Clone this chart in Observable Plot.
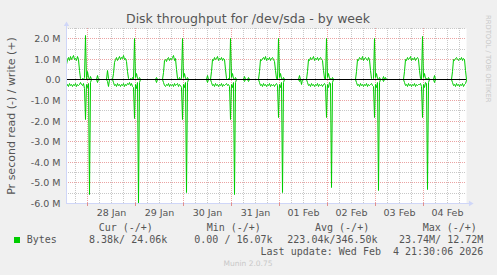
<!DOCTYPE html>
<html><head><meta charset="utf-8">
<script src="https://cdn.jsdelivr.net/npm/d3@7"></script>
<script src="https://cdn.jsdelivr.net/npm/@observablehq/plot@0.6"></script>
<style>
html,body{margin:0;padding:0;background:#f0f0f0;}
#wrap{position:relative;width:497px;height:275px;overflow:hidden;background:#f0f0f0;}
#wrap svg{position:absolute;left:0;top:0;}
</style></head><body><div id="wrap"></div>
<script>
// Time axis: hours after 27 Jan 00:00; samples every 30 minutes
const startHour = 13.5;   // 27 Jan 13:30
const endHour = 213.5;    // 04 Feb 21:30
const stepHours = 0.5;

// write (+) in MB/s, per 30-min sample
const writeM = [
  0.75,1.0,1.1,0.95,1.15,1.0,1.1,1.2,1.0,1.05,
  0.95,1.15,1.0,0.45,0.05,0,0.05,0,0.1,2.15,
  0,0.4,0.1,0,0.15,0,0,0,0,0,
  0,0.2,0,0,0,0,0,0,0,0,
  0,0.45,0.05,0,0,0,0,0.3,0.85,1.0,
  1.1,0.95,1.05,1.15,1.0,1.1,1.05,1.2,1.0,1.05,
  0.9,0.4,0.05,0,0.05,0,0.1,0,2.0,0.1,
  0.3,0.05,0,0.1,0,0,0,0,0,0,
  0,0,0,0,0,0,0,0,0,0,
  0.1,0,0,0,0,0,0,0.35,0.95,1.0,
  0.9,1.05,1.1,0.95,1.05,1.0,1.1,1.2,0.95,1.05,
  0.5,0.05,0,0.1,0,0.05,2.0,0.1,0.3,0.05,
  0,0.1,0,0,0,0,0,0,0,0,
  0,0,0,0,0,0,0,0,0,0,
  0,0.2,0,0,0,0.4,1.0,0.95,1.1,1.0,
  1.05,1.15,0.95,1.05,1.0,1.1,0.95,1.05,1.0,0.5,
  0.05,0,0.05,0,2.0,0.1,0.3,0.05,0,0.1,
  0,0,0,0,0,0,0,0,0.15,0,
  0,0,0.1,0,0,0,0,0,0,0,
  0,0,0,0.4,1.0,0.95,1.05,1.1,1.0,1.15,
  0.95,1.05,1.0,1.1,0.95,1.05,1.1,1.0,0.9,0.45,
  0.05,0,2.0,0.1,0.3,0.05,0,0.1,0,0,
  0,0,0,0,0,0,0,0,0,0,
  0,0,0,0.2,0,0,0,0,0,0,
  0,0.4,1.0,0.95,1.1,1.0,1.05,1.15,0.95,1.05,
  1.0,1.1,0.95,1.05,1.1,1.0,0.95,0.45,0.05,0,
  2.0,0.1,0.3,0.05,0.05,0,0.1,0,0,0,
  0,0,0,0,0,0,0,0,0,0,
  0,0,0,0,0,0,0,0,0,0,
  0.4,1.0,0.95,1.1,1.05,1.0,1.15,0.95,1.05,1.1,
  1.0,0.95,1.1,1.0,0.45,0.05,0,0.05,2.0,0.1,
  0.3,0.05,0,0.1,0,0,0,0.15,0,0.1,
  0,0,0,0,0,0,0,0,0,0,
  0,0,0,0,0,0,0,0,0.4,1.0,
  0.95,1.1,1.0,1.05,1.15,0.95,1.05,1.0,1.1,0.95,
  1.05,1.1,1.0,0.45,0.05,0,2.1,0.1,0.3,0.05,
  0.05,0,0.1,0,0,0,0,0,0.2,0,
  0,0,0,0,0,0,0,0,0,0,
  0,0,0,0,0,0,0.4,1.0,0.95,1.05,
  1.1,1.0,0.95,1.05,1.0,1.1,0.95,1.05,1.0,0.45,
  0.02
];
// read (-) in MB/s, per 30-min sample (drawn negative)
const readM = [
  -0.3,-0.2,-0.3,-0.15,-0.25,-0.2,-0.3,-0.2,-0.25,-0.15,
  -0.3,-0.2,-0.25,-0.2,-0.1,-0.2,-0.25,-0.15,-0.4,-1.9,
  -0.2,-0.35,-0.15,-5.55,-0.1,0,0,0,0,0,
  0,-0.1,0,0,0,0,0,0,0,0,
  0,-0.05,-0.3,0,0,0,0,-0.1,-0.25,-0.2,
  -0.3,-0.15,-0.25,-0.2,-0.3,-0.2,-0.25,-0.15,-0.3,-0.2,
  -0.25,-0.15,-0.2,-0.1,-0.25,-0.15,-0.3,-0.35,-1.85,-0.2,
  -0.4,-0.1,-6.0,-0.1,0,0,0,0,0,0,
  0,0,0,0,0,0,0,0,0,0,
  -0.1,0,0,0,0,0,0,-0.1,-0.25,-0.3,
  -0.2,-0.25,-0.15,-0.3,-0.2,-0.25,-0.2,-0.3,-0.15,-0.25,
  -0.2,-0.15,-0.3,-0.2,-0.25,-0.35,-1.9,-0.2,-0.35,-0.1,
  -5.45,-0.1,0,0,0,0,0,0,0,0,
  0,0,0,0,0,0,0,0,0,0,
  0,-0.1,0,0,0,-0.1,-0.25,-0.2,-0.3,-0.15,
  -0.25,-0.2,-0.3,-0.2,-0.25,-0.15,-0.3,-0.2,-0.25,-0.2,
  -0.15,-0.25,-0.2,-0.3,-1.9,-0.2,-0.35,-0.1,-5.55,-0.1,
  0,0,0,0,0,0,0,0,-0.05,0,
  0,0,-0.05,0,0,0,0,0,0,0,
  0,0,0,-0.1,-0.25,-0.2,-0.3,-0.15,-0.25,-0.2,
  -0.3,-0.2,-0.25,-0.15,-0.3,-0.2,-0.25,-0.2,-0.3,-0.2,
  -0.15,-0.25,-1.8,-0.2,-0.35,-0.1,-5.47,-0.1,0,0,
  0,0,0,0,0,0,0,0,0,0,
  0,0,0,-0.05,0,-0.2,0,0,0,0,
  0,-0.1,-0.25,-0.2,-0.3,-0.15,-0.25,-0.2,-0.3,-0.2,
  -0.25,-0.15,-0.3,-0.2,-0.25,-0.2,-0.3,-0.2,-0.15,-0.25,
  -1.83,-0.2,-0.35,-0.1,-0.15,-5.2,-0.1,0,0,0,
  0,0,0,0,0,0,0,0,0,0,
  0,0,0,0,0,0,0,0,0,0,
  -0.1,-0.25,-0.2,-0.3,-0.15,-0.25,-0.2,-0.3,-0.2,-0.25,
  -0.15,-0.3,-0.2,-0.25,-0.2,-0.15,-0.25,-0.3,-1.83,-0.2,
  -0.35,-0.1,-5.38,-0.1,0,0,0,-0.05,0,0,
  0,0,0,0,0,0,0,0,0,0,
  0,0,0,0,0,0,0,0,-0.1,-0.25,
  -0.2,-0.3,-0.15,-0.25,-0.2,-0.3,-0.2,-0.25,-0.15,-0.3,
  -0.2,-0.25,-0.2,-0.2,-0.15,-0.3,-1.8,-0.2,-0.35,-0.1,
  -0.15,-5.3,-0.1,0,0,0,0,0,-0.1,0,
  0,0,0,0,0,0,0,0,0,0,
  0,0,0,0,0,0,-0.1,-0.25,-0.2,-0.3,
  -0.15,-0.25,-0.2,-0.3,-0.2,-0.25,-0.15,-0.3,-0.2,-0.15,
  -0.01
];

// Axis ticks / labels
const yTickValues = [-6e6,-5e6,-4e6,-3e6,-2e6,-1e6,0,1e6,2e6];
const yTickLabels = ["-6.0 M","-5.0 M","-4.0 M","-3.0 M","-2.0 M","-1.0 M","0.0","1.0 M","2.0 M"];
const yMinorValues = [-5.5e6,-4.5e6,-3.5e6,-2.5e6,-1.5e6,-0.5e6,0.5e6,1.5e6,2.5e6];
const dayNoonHours = [36,60,84,108,132,156,180,204];
const dayLabels = ["28 Jan","29 Jan","30 Jan","31 Jan","01 Feb","02 Feb","03 Feb","04 Feb"];
const midnightHours = [24,48,72,96,120,144,168,192];
const sixHourMinor = [18,30,36,42,54,60,66,78,84,90,102,108,114,126,132,138,150,156,162,174,180,186,198,204,210];

const legendHeaders = ["Cur (-/+)","Min (-/+)","Avg (-/+)","Max (-/+)"];
const legendValues = ["8.38k/ 24.06k","0.00 / 16.07k","223.04k/346.50k","23.74M/ 12.72M"];
const seriesName = "Bytes";
const titleText = "Disk throughput for /dev/sda - by week";
const yAxisTitle = "Pr second read (-) / write (+)";
const lastUpdate = "Last update: Wed Feb  4 21:30:06 2026";
const creditText = "RRDTOOL / TOBI OETIKER";
const versionText = "Munin 2.0.75";

const data = writeM.map((w, i) => ({t: startHour + i * stepHours, write: w * 1e6, read: readM[i] * 1e6}));
const yDomain = [-6e6, 2.5e6];
const yLabelOf = new Map(yTickValues.map((v, i) => [v, yTickLabels[i]]));
const dayLabelOf = new Map(dayNoonHours.map((v, i) => [v, dayLabels[i]]));

const axisColor = "#cfd6f8";
const green = "#00cc00";
const majorGrid = "#eba3a3";
const minorGrid = "#c8c8c8";

const chart = Plot.plot({
  width: 497, height: 275,
  marginLeft: 66, marginRight: 31, marginTop: 28, marginBottom: 72,
  style: {background: "transparent", fontFamily: "'DejaVu Sans', sans-serif", fontSize: "9.5px", color: "#555", overflow: "visible"},
  x: {domain: [startHour, endHour], round: true, label: null},
  y: {domain: yDomain, round: true, label: null},
  marks: [
    Plot.frame({fill: "white", stroke: "none"}),
    Plot.ruleY(yMinorValues, {stroke: minorGrid, strokeDasharray: "1,1"}),
    Plot.ruleX(sixHourMinor, {stroke: minorGrid, strokeDasharray: "1,1"}),
    Plot.ruleY(yTickValues.filter(v => v > yDomain[0]), {stroke: majorGrid, strokeDasharray: "1,1"}),
    Plot.ruleX(midnightHours, {stroke: majorGrid, strokeDasharray: "1,1"}),
    Plot.line(data, {x: "t", y: "write", stroke: green, strokeWidth: 1}),
    Plot.line(data, {x: "t", y: "read", stroke: green, strokeWidth: 1}),
    Plot.ruleY([0], {stroke: "black"}),
    // axis lines with arrows
    Plot.ruleY([yDomain[0]], {x1: startHour, x2: endHour + 1.5, stroke: axisColor}),
    Plot.ruleX([startHour], {y1: yDomain[0], y2: yDomain[1] * 1.08, stroke: axisColor}),
    Plot.dot([endHour], {x: d => d, y: () => yDomain[0], dx: 4, symbol: "triangle", rotate: 90, r: 2, fill: axisColor}),
    Plot.dot([startHour], {x: d => d, y: () => yDomain[1], dy: -4, symbol: "triangle", r: 2, fill: axisColor}),
    // ticks
    Plot.axisX(midnightHours, {tickSize: 3, tickFormat: () => "", color: "#e08f8f", label: null}),
    Plot.axisX(dayNoonHours, {tickSize: 0, tickPadding: 5.5, tickFormat: d => dayLabelOf.get(d), fontSize: 9.5, color: "#555", label: null}),
    Plot.axisY(yTickValues, {tickSize: 0, tickPadding: 6, tickFormat: d => yLabelOf.get(d), fontSize: 9.5, color: "#555", label: null})
  ]
});
document.getElementById("wrap").appendChild(chart);

// Title, axis title, legend (text overlay)
const ov = d3.select("#wrap").append("svg").attr("width", 497).attr("height", 275)
  .style("font-family", "'DejaVu Sans', sans-serif");
ov.append("text").attr("x", 248).attr("y", 23).attr("text-anchor", "middle")
  .attr("font-size", 12.5).attr("fill", "#555").text(titleText);
ov.append("text").attr("transform", "translate(15,116) rotate(-90)").attr("text-anchor", "middle")
  .attr("font-size", 11).attr("fill", "#555").text(yAxisTitle);
ov.append("text").attr("transform", "translate(485.5,15) rotate(90)").attr("text-anchor", "start")
  .attr("font-size", 6.8).attr("fill", "#c8c8c8").text(creditText);
ov.append("text").attr("x", 248).attr("y", 266).attr("text-anchor", "middle")
  .attr("font-size", 7.5).attr("fill", "#c8c8c8").text(versionText);

const mono = ov.append("g").style("font-family", "'DejaVu Sans Mono', monospace")
  .attr("font-size", 10).attr("fill", "#555").style("white-space", "pre");
const headerX = [98.7, 206.7, 315, 422.7];
const valueX = [89, 194.3, 287.3, 399];
legendHeaders.forEach((h, i) => mono.append("text").attr("x", headerX[i]).attr("y", 230.5).attr("xml:space", "preserve").text(h));
ov.append("rect").attr("x", 14).attr("y", 237).attr("width", 6).attr("height", 6).attr("fill", green);
mono.append("text").attr("x", 26.7).attr("y", 243.3).text(seriesName);
legendValues.forEach((v, i) => mono.append("text").attr("x", valueX[i]).attr("y", 243.3).attr("xml:space", "preserve").text(v));
mono.append("text").attr("x", 483.3).attr("y", 255).attr("text-anchor", "end").attr("xml:space", "preserve").text(lastUpdate);
</script></body></html>
